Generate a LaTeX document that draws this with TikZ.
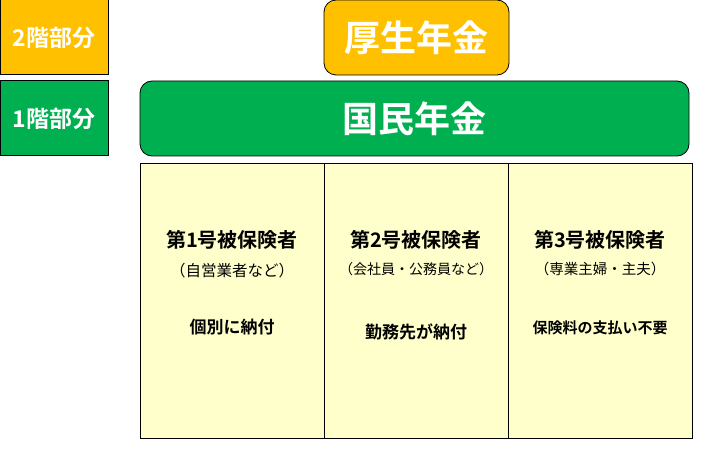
\documentclass[tikz,border=0pt]{standalone}
\usepackage{fontspec}
\usepackage{tikz}
\usetikzlibrary{positioning}
\newfontfamily\cjk{Noto Sans CJK JP}[BoldFont={* Bold}]
\definecolor{kosei}{HTML}{FFC000}
\definecolor{kokumin}{HTML}{00B050}
\definecolor{hoken}{HTML}{FFFFCC}

\begin{document}
\begin{tikzpicture}[x=1pt, y=-1pt,
			floor/.style={rectangle, draw=black, line width=1pt, minimum width=108pt, minimum height=75pt, text=white, font=\cjk\bfseries\fontsize{23}{23}\selectfont},
			nenkin/.style={rectangle, rounded corners=12pt, draw=black, line width=0.8pt, minimum height=75pt, text=white, font=\cjk\bfseries\fontsize{36}{36}\selectfont},
			column/.style={rectangle, draw=black, line width=1pt, fill=hoken, minimum width=184pt, minimum height=274pt, inner sep=0pt},
			title/.style={font=\cjk\bfseries\fontsize{20}{20}\selectfont},
			note/.style={font=\cjk\fontsize{14}{14}\selectfont},
			pay/.style={font=\cjk\bfseries\fontsize{17}{17}\selectfont}]
			\useasboundingbox (0,0) rectangle (709,457);
			\node[floor, fill=kosei] (floor2) at (54,37.5) {2階部分};
			\node[floor, fill=kokumin] (floor1) at (54,118.5) {1階部分};
			\node[nenkin, fill=kosei, minimum width=185pt] (kosei) at (416.5,37.5) {厚生年金};
			\node[nenkin, fill=kokumin, minimum width=549pt] (kokumin) at (414.5,118.5) {国民年金};
			\node[column] (col1) at (232,301) {};
			\node[column] (col2) at (416,301) {};
			\node[column] (col3) at (600,301) {};
			\node[title] (title1) at (232,240) {第1号被保険者};
			\node[title] (title2) at (416,240) {第2号被保険者};
			\node[title] (title3) at (600,240) {第3号被保険者};
			\node[note, font=\cjk\fontsize{15.5}{15.5}\selectfont] (note1) at (232,271) {（自営業者など）};
			\node[note] (note2) at (416,269) {（会社員・公務員など）};
			\node[note, font=\cjk\fontsize{14.5}{14.5}\selectfont] (note3) at (600,269) {（専業主婦・主夫）};
			\node[pay] (pay1) at (232,327) {個別に納付};
			\node[pay] (pay2) at (416,332) {勤務先が納付};
			\node[pay, font=\cjk\bfseries\fontsize{15}{15}\selectfont] (pay3) at (600,328) {保険料の支払い不要};
		\end{tikzpicture}
\end{document}
